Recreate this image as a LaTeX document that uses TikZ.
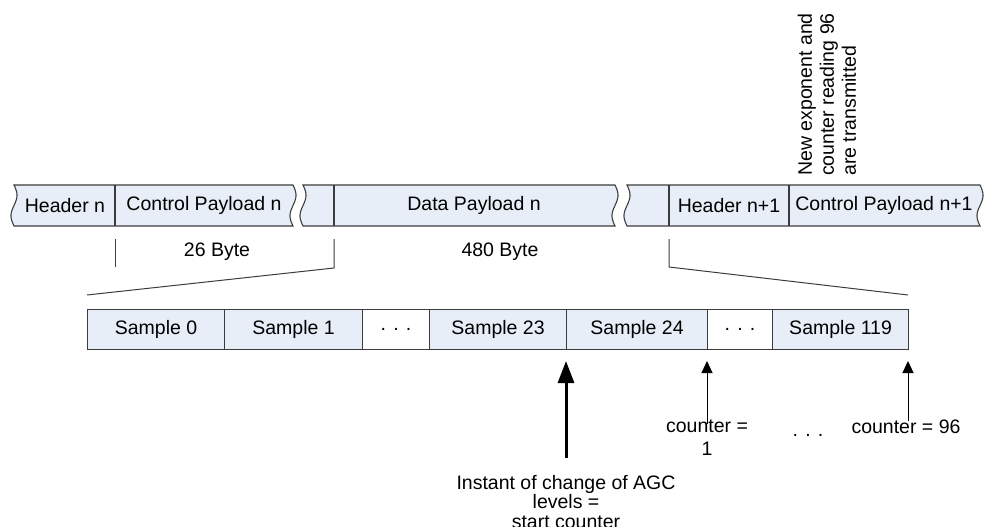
\documentclass[tikz,border=0pt]{standalone}
\usepackage{fontspec}
\setmainfont{Liberation Sans}
\usetikzlibrary{arrows.meta}
\definecolor{cellfill}{RGB}{232,238,247}
\definecolor{edgegray}{RGB}{60,60,60}
\begin{document}
\begin{tikzpicture}[x=1pt,y=-1pt,
  lbl/.style={font=\fontsize{19.5}{22}\selectfont, inner sep=0pt, align=center, text=black},
  cell/.style={draw=edgegray, fill=cellfill, line width=1.1pt, minimum height=40pt,
    inner sep=0pt, anchor=north west, font=\fontsize{19.5}{22}\selectfont},
  dotcell/.style={cell, fill=white},
  torn/.style={draw=edgegray, fill=cellfill, line width=1.1pt},
  divider/.style={draw=edgegray, line width=1.1pt},
  brace/.style={draw=edgegray, line width=1pt},
  thickarrow/.style={draw=black, line width=3pt, -{Triangle[length=22pt,width=16pt]}},
  thinarrow/.style={draw=black, line width=1pt, -{Triangle[length=12pt,width=11pt]}}
]
\useasboundingbox (0,0) rectangle (988,527);

% ---- top row: torn segments ----
\filldraw[torn] (14,185) -- (293,185)
  -- plot[domain=0:41,samples=40] ({293+3*sin(\x*360/41)},{185+\x})
  -- (14,226)
  -- plot[domain=41:0,samples=40] ({14+3*sin(\x*360/41)},{185+\x}) -- cycle;
\filldraw[torn] (303,185) -- (615,185)
  -- plot[domain=0:41,samples=40] ({615+3*sin(\x*360/41)},{185+\x})
  -- (303,226)
  -- plot[domain=41:0,samples=40] ({303+3*sin(\x*360/41)},{185+\x}) -- cycle;
\filldraw[torn] (627,185) -- (980,185)
  -- plot[domain=0:41,samples=40] ({980+3*sin(\x*360/41)},{185+\x})
  -- (627,226)
  -- plot[domain=41:0,samples=40] ({627+3*sin(\x*360/41)},{185+\x}) -- cycle;

\draw[divider] (115,185) -- (115,226);
\draw[divider] (334,185) -- (334,226);
\draw[divider] (669,185) -- (669,226);
\draw[divider] (789,185) -- (789,226);

\node[lbl] (hn)  at (65,205.5)  {Header n};
\node[lbl] (cpn) at (204,205.5) {Control Payload n};
\node[lbl] (dpn) at (474,205.5) {Data Payload n};
\node[lbl] (hn1) at (729,205.5) {Header n+1};
\node[lbl] (cpn1) at (884,205.5) {Control Payload n+1};

\node[lbl, rotate=90, align=left, anchor=west] (note) at (827,176) {New exponent and\\counter reading 96\\are transmitted};

% ---- byte counts and zoom lines ----
\node[lbl] (b26)  at (217,252) {26 Byte};
\node[lbl] (b480) at (500,252) {480 Byte};

\coordinate (t1a) at (115,239);
\coordinate (t1b) at (115,267);
\coordinate (t2a) at (334,239);
\coordinate (t2b) at (334,268);
\coordinate (t3a) at (669,239);
\coordinate (t3b) at (669,267);
\coordinate (zl) at (87,295);
\coordinate (zr) at (908,295);
\draw[brace] (t1a) -- (t1b);
\draw[brace] (t2a) -- (t2b) -- (zl);
\draw[brace] (t3a) -- (t3b) -- (zr);

% ---- sample row ----
\node[cell, minimum width=137pt] (s0)   at (87,309)  {Sample 0};
\node[cell, minimum width=138pt] (s1)   at (224,309) {Sample 1};
\node[dotcell, minimum width=67pt] (d1) at (362,309) {. . .};
\node[cell, minimum width=137pt] (s23)  at (429,309) {Sample 23};
\node[cell, minimum width=141pt] (s24)  at (566,309) {Sample 24};
\node[dotcell, minimum width=65pt] (d2) at (707,309) {. . .};
\node[cell, minimum width=136pt] (s119) at (772,309) {Sample 119};

% ---- annotations below ----
\node[lbl, font=\fontsize{19.5}{19.5}\selectfont] (agc) at (566,502) {Instant of change of AGC\\levels =\\start counter};
\node[lbl, font=\fontsize{19.5}{23}\selectfont] (c1) at (707,438) {counter =\\1};
\node[lbl] (c96) at (906,427) {counter = 96};
\node[lbl] (dots) at (808,435) {. . .};

\coordinate (agcTop) at (566,458);
\coordinate (c1Top) at (707,424);
\coordinate (c96Top) at (908,421);
\coordinate (a1) at (566,361);
\coordinate (a2) at (707,361);
\coordinate (a3) at (908,361);
\draw[thickarrow] (agcTop) -- (a1);
\draw[thinarrow] (c1Top) -- (a2);
\draw[thinarrow] (c96Top) -- (a3);
\end{tikzpicture}
\end{document}
